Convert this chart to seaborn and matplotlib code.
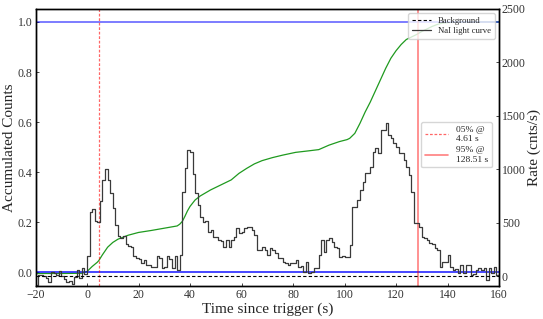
import numpy as np
import pandas as pd
import matplotlib
matplotlib.use("Agg")
import matplotlib.pyplot as plt
import seaborn as sns

# ---- data ----
bin_start = -20
bin_width = 1.0
rates = [
    -80, 10, 12, 0, -15, -50, 40, 35, 10, 50, 0, -30, -50, -45, -70, -10, 60, -20, 75, 20,      # -20..-1
    190, 600, 630, 520, 510, 700, 900, 1000, 900, 780, 640, 480, 380, 360, 380, 300, 280, 270, 185, 170,  # 0..19
    165, 120, 150, 105, 105, 90, 85, 185, 175, 75, 85, 185, 160, 80, 185, 60, 200, 790, 1010, 1180,     # 20..39
    1165, 960, 775, 667, 557, 510, 520, 417, 430, 370, 365, 340, 330, 277, 340, 277, 340, 370, 448, 400,  # 40..59
    410, 448, 464, 460, 433, 386, 246, 250, 277, 246, 200, 262, 250, 215, 168, 175, 137, 121, 106, 121,  # 60..79
    121, 153, 90, 100, 44, 137, 34, 40, 75, 80, 200, 340, 230, 340, 355, 324, 277, 262, 184, 190,       # 80..99
    184, 184, 293, 651, 651, 713, 807, 885, 963, 963, 1025, 1165, 1196, 1150, 1368, 1368, 1436, 1320, 1290, 1243,  # 100..119
    1212, 1150, 1150, 1087, 1025, 947, 791, 495, 495, 464, 370, 360, 340, 308, 300, 262, 246, 90, 137, 130,  # 120..139
    200, 90, 60, 65, 28, 106, 30, 106, 106, 12, 20, 60, 75, 60, 75, -34, 75, 28, 90, 12,               # 140..159
]

curve_t = [-20, -10, -2, 0, 2, 4, 4.6, 6, 8, 10, 12, 14, 16, 20, 25, 30, 35, 36, 37, 38, 39, 40,
           42, 44, 48, 52, 56, 59, 62, 65, 68, 72, 76, 81, 86, 90, 94, 98, 101, 102, 104, 106,
           108, 110, 112, 114, 116, 118, 120, 122, 124, 126, 128, 130, 132, 134, 136, 138, 142, 150, 160]
curve_v = [-0.005, -0.005, -0.004, 0.003, 0.023, 0.04, 0.047, 0.07, 0.1, 0.119, 0.132, 0.14, 0.148,
           0.159, 0.167, 0.176, 0.185, 0.192, 0.203, 0.223, 0.245, 0.263, 0.289, 0.305, 0.329, 0.349,
           0.369, 0.395, 0.415, 0.433, 0.446, 0.458, 0.468, 0.479, 0.485, 0.49, 0.508, 0.522, 0.53,
           0.535, 0.555, 0.595, 0.64, 0.68, 0.725, 0.77, 0.815, 0.855, 0.885, 0.91, 0.93, 0.94, 0.95,
           0.962, 0.972, 0.982, 0.99, 0.996, 0.999, 1.0, 1.0]

t05, t95 = 4.61, 128.51
label05 = "05% @\n4.61 s"
label95 = "95% @\n128.51 s"

# ---- style ----
sns.set_style("ticks")
plt.rcParams["font.family"] = ["Liberation Serif", "DejaVu Serif"]

fig = plt.figure(figsize=(5.43, 3.19), dpi=100)
ax = fig.add_axes([0.0654, 0.1034, 0.8536, 0.8693])
ax2 = ax.twinx()

# step histogram (right axis)
edges = bin_start + bin_width * np.arange(len(rates) + 1)
hist_df = pd.DataFrame({"t": edges, "rate": list(rates) + [rates[-1]]})
sns.lineplot(data=hist_df, x="t", y="rate", ax=ax2, drawstyle="steps-post",
             color="#3a3a3a", lw=0.9, estimator=None)
bg = ax2.axhline(0, color="k", ls="--", lw=0.8, dashes=(3, 2))

# cumulative curve (left axis)
curve_df = pd.DataFrame({"t": curve_t, "v": curve_v})
sns.lineplot(data=curve_df, x="t", y="v", ax=ax, color="#1f9a1f", lw=0.9, estimator=None)
ax.axhline(1.0, color="blue", lw=1.2, alpha=0.6)
ax.axhline(0.0, color="blue", lw=1.2, alpha=0.85)
l05 = ax.axvline(t05, color="red", lw=0.9, alpha=0.6, dashes=(2.2, 1.4))
l95 = ax.axvline(t95, color="red", ls="-", lw=1.2, alpha=0.5)

ax.set_xlim(-20, 160)
ax.set_ylim(-0.055, 1.053)
ax2.set_ylim(-91, 2500)
ax.set_yticks([0.0, 0.2, 0.4, 0.6, 0.8, 1.0])
ax2.set_yticks([0, 500, 1000, 1500, 2000, 2500])
ax.set_xticks([-20, 0, 20, 40, 60, 80, 100, 120, 140, 160])

ax.set_xlabel("Time since trigger (s)", fontsize=11, labelpad=1)
ax.set_ylabel("Accumulated Counts", fontsize=11, labelpad=1)
ax2.set_ylabel("Rate (cnts/s)", fontsize=11, labelpad=1)
ax2.set_xlabel("")

for a in (ax, ax2):
    a.tick_params(axis="both", labelsize=8.5, length=2.5, width=0.6, direction="in", pad=2,
                  labelcolor="#333333")
    for s in a.spines.values():
        s.set_linewidth(1.0)
        s.set_color("black")

# legends
hist_line = ax2.lines[0]
leg1 = ax2.legend([bg, hist_line], ["Background", "NaI light curve"], loc="upper right",
                  fontsize=6.3, handlelength=2.2, borderpad=0.4, labelspacing=0.3,
                  fancybox=True)
leg2 = ax.legend([l05, l95], [label05, label95], loc="center right",
                 fontsize=6.8, handlelength=2.5, borderpad=0.4, labelspacing=0.4,
                 bbox_to_anchor=(0.995, 0.51))

fig.savefig("out.png", dpi=100)
